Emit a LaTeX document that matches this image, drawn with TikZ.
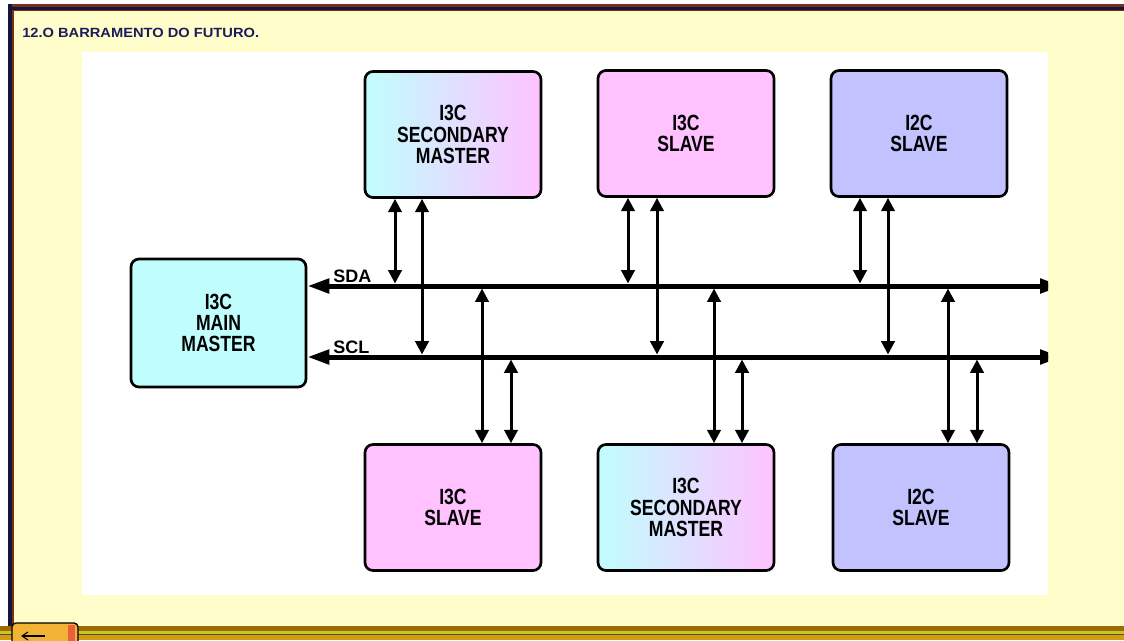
\documentclass[tikz,border=0pt]{standalone}
\usepackage{fontspec}
\setmainfont{Liberation Sans}
\newfontfamily\boxfont[FakeStretch=0.8]{Liberation Sans}
\newfontfamily\titlefont[FakeStretch=1.1]{Liberation Sans}
\usetikzlibrary{arrows.meta}
\definecolor{cream}{HTML}{FFFDCA}
\definecolor{framebrown}{HTML}{7A2E12}
\definecolor{framenavy}{HTML}{14143F}
\definecolor{bandbrown}{HTML}{9E6A05}
\definecolor{bandyellow}{HTML}{C9C61E}
\definecolor{gold}{HTML}{D29C0C}
\definecolor{titlenavy}{HTML}{1B1B5E}
\definecolor{cy}{HTML}{C0FEFE}
\definecolor{pk}{HTML}{FFC2FF}
\definecolor{lv}{HTML}{C2C2FF}
\definecolor{iconorange}{HTML}{F2B233}
\definecolor{iconred}{HTML}{E8603A}
\tikzset{
  box/.style={draw=black, line width=2pt, rounded corners=6pt,
    minimum width=132pt, minimum height=94.5pt, align=center, inner sep=0pt,
    font=\boxfont\bfseries\fontsize{16.5}{16}\selectfont},
  grad/.style={left color=cy, right color=pk},
  bus/.style={line width=3.75pt, {Triangle[length=16.5pt,width=10.5pt]}-{Triangle[length=16.5pt,width=10.5pt]}},
  varrow/.style={line width=2.25pt, {Triangle[length=10pt,width=10pt]}-{Triangle[length=10pt,width=10pt]}},
  buslabel/.style={anchor=base west, inner sep=0pt, font=\bfseries\fontsize{13.5}{14}\selectfont}
}
\begin{document}
\begin{tikzpicture}[x=0.75pt,y=-0.75pt]
\useasboundingbox (0,0) rectangle (1124,640);
% background and frame
\fill[white] (0,0) rectangle (1124,640);
\fill[cream] (8,4) rectangle (1124,627);
\fill[framebrown] (8,4) rectangle (1124,7);
\fill[framenavy] (8,7) rectangle (1124,10);
\fill[framebrown] (8,10) rectangle (1124,11);
\fill[framenavy] (8,4) rectangle (12,627);
\fill[framebrown] (12,10) rectangle (14,627);
\fill[bandbrown] (0,626) rectangle (1124,631);
\fill[bandyellow] (0,631) rectangle (1124,634);
\fill[black!70] (0,634) rectangle (1124,635);
\fill[gold] (0,635) rectangle (1124,640);
% corner icon
\draw[line width=1pt, fill=iconorange, rounded corners=3pt] (12,623) rectangle (78,646);
\fill[iconred] (68,625) rectangle (75,646);
\draw[line width=0.8pt] (22,636) -- (45,636);
\draw[line width=0.8pt] (28,632) -- (22,636) -- (28,640);
% title
\node[anchor=base west, inner sep=0pt, text=titlenavy,
  font=\titlefont\bfseries\fontsize{10}{12}\selectfont] (title) at (22,37) {12.O BARRAMENTO DO FUTURO.};
% white panel
\fill[white] (82,52) rectangle (1048,595);
% boxes
\node[box, fill=cy, minimum width=131.25pt, minimum height=96pt] (main) at (218.5,323) {I3C\\MAIN\\MASTER};
\node[box, grad] (tsm) at (453,134.5) {I3C\\SECONDARY\\MASTER};
\node[box, fill=pk] (tsl) at (686,133.5) {I3C\\SLAVE};
\node[box, fill=lv] (ti2c) at (919,133.5) {I2C\\SLAVE};
\node[box, fill=pk] (bsl) at (453,507.5) {I3C\\SLAVE};
\node[box, grad] (bsm) at (686,507.5) {I3C\\SECONDARY\\MASTER};
\node[box, fill=lv] (bi2c) at (921,507.5) {I2C\\SLAVE};
% buses
\coordinate (sda) at (1062,286);
\coordinate (scl) at (1062,357);
\begin{scope}
\clip (82,52) rectangle (1048,595);
\draw[bus] (main.east |- sda) -- (sda);
\draw[bus] (main.east |- scl) -- (scl);
\end{scope}
\node[buslabel] (sdal) at (333,282) {SDA};
\node[buslabel] (scll) at (333,353) {SCL};
% vertical connectors, top
\draw[varrow, shorten >=1.9pt] (395,0 |- tsm.south) -- (395,0 |- sda);
\draw[varrow, shorten >=1.9pt] (422,0 |- tsm.south) -- (422,0 |- scl);
\draw[varrow, shorten >=1.9pt] (628,0 |- tsl.south) -- (628,0 |- sda);
\draw[varrow, shorten >=1.9pt] (657,0 |- tsl.south) -- (657,0 |- scl);
\draw[varrow, shorten >=1.9pt] (860,0 |- ti2c.south) -- (860,0 |- sda);
\draw[varrow, shorten >=1.9pt] (888,0 |- ti2c.south) -- (888,0 |- scl);
% vertical connectors, bottom
\draw[varrow, shorten <=1.9pt] (482,0 |- sda) -- (482,0 |- bsl.north);
\draw[varrow, shorten <=1.9pt] (511,0 |- scl) -- (511,0 |- bsl.north);
\draw[varrow, shorten <=1.9pt] (714,0 |- sda) -- (714,0 |- bsm.north);
\draw[varrow, shorten <=1.9pt] (742,0 |- scl) -- (742,0 |- bsm.north);
\draw[varrow, shorten <=1.9pt] (948,0 |- sda) -- (948,0 |- bi2c.north);
\draw[varrow, shorten <=1.9pt] (977,0 |- scl) -- (977,0 |- bi2c.north);
\end{tikzpicture}
\end{document}
